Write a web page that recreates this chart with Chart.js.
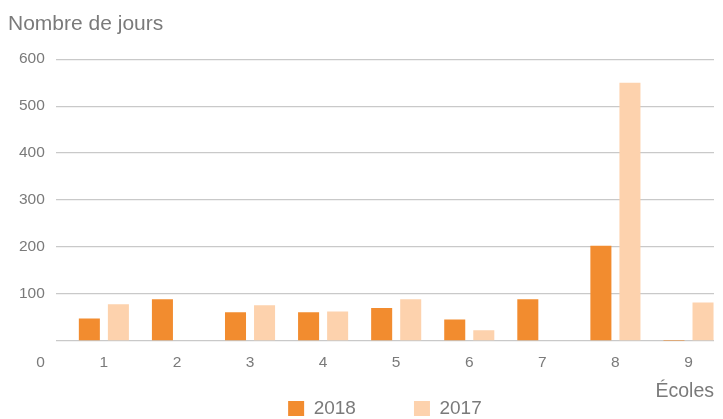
<!DOCTYPE html>
<html>
<head>
<meta charset="utf-8">
<script src="https://cdn.jsdelivr.net/npm/chart.js@4/dist/chart.umd.min.js"></script>
<style>
  html, body { margin: 0; padding: 0; background: #fff; }
  #wrap { width: 723px; height: 419px; }
</style>
</head>
<body>
<div id="wrap"><canvas id="grafico"></canvas></div>
<script>
const ecoles = [1, 2, 3, 4, 5, 6, 7, 8, 9];
const jours2018 = [48, 89, 61, 61, 70, 46, 89, 203, 0.5];
const jours2017 = [78, 0, 76, 63, 89, 23, 0, 550, 82];
const yTicks = [0, 100, 200, 300, 400, 500, 600];

const police = '"Liberation Sans", Arial, sans-serif';
const gris = '#7a7a7a';

// le "0" de l'axe y est posé sur la ligne des étiquettes x
const zeroLabel = {
    id: 'zeroLabel',
    afterDraw(chart) {
        const ctx = chart.ctx;
        const y = chart.scales.y;
        const x = chart.scales.x;
        ctx.save();
        ctx.font = '15.5px ' + police;
        ctx.fillStyle = gris;
        ctx.textAlign = 'right';
        ctx.textBaseline = 'middle';
        ctx.fillText(String(yTicks[0]), y.right - 11, x.top + 12 + 9.3);
        ctx.restore();
    }
};

const ctx = document.getElementById('grafico').getContext('2d');
new Chart(ctx, {
    type: 'bar',
    data: {
        datasets: [{
            label: '2018',
            data: ecoles.map((e, i) => ({ x: e, y: jours2018[i] })),
            backgroundColor: '#f28c2f'
        }, {
            label: '2017',
            data: ecoles.map((e, i) => ({ x: e, y: jours2017[i] })),
            backgroundColor: '#fdd2ad'
        }]
    },
    options: {
        responsive: true,
        maintainAspectRatio: false,
        animation: false,
        categoryPercentage: 0.795,
        barPercentage: 0.724,
        layout: { padding: { left: 8, right: 9, top: 0, bottom: 0 } },
        scales: {
            x: {
                type: 'linear',
                offset: false,
                min: 0.343,
                max: 9.349,
                afterBuildTicks: scale => { scale.ticks = ecoles.map(v => ({ value: v })); },
                grid: { display: false, drawTicks: false },
                border: { display: false },
                ticks: {
                    padding: 12,
                    color: gris,
                    font: { family: police, size: 15.5 },
                    callback: v => String(v)
                },
                title: {
                    display: true,
                    text: 'Écoles',
                    align: 'end',
                    color: gris,
                    font: { family: police, size: 19.5 },
                    padding: { top: -4, bottom: -4 }
                }
            },
            y: {
                min: 0,
                max: 600,
                afterBuildTicks: scale => { scale.ticks = yTicks.map(v => ({ value: v })); },
                grid: { color: '#c9c9c9', lineWidth: 1.3, drawTicks: false },
                border: { display: false },
                ticks: {
                    padding: 11,
                    color: gris,
                    font: { family: police, size: 15.5 },
                    callback: v => v === 0 ? '' : String(v)
                }
            }
        },
        plugins: {
            title: {
                display: true,
                text: 'Nombre de jours',
                align: 'start',
                color: gris,
                font: { family: police, size: 21, weight: 'normal' },
                padding: { top: 12, bottom: 22 }
            },
            legend: {
                position: 'bottom',
                fullSize: false,
                maxHeight: 20,
                labels: {
                    boxWidth: 16,
                    boxHeight: 15,
                    padding: 0,
                    color: gris,
                    font: { family: police, size: 19 },
                    generateLabels: chart => {
                        const items = Chart.defaults.plugins.legend.labels.generateLabels(chart);
                        items[0].text = items[0].text + '\u00a0'.repeat(11);
                        return items;
                    }
                }
            },
            tooltip: { enabled: false }
        }
    },
    plugins: [zeroLabel]
});
</script>
</body>
</html>
